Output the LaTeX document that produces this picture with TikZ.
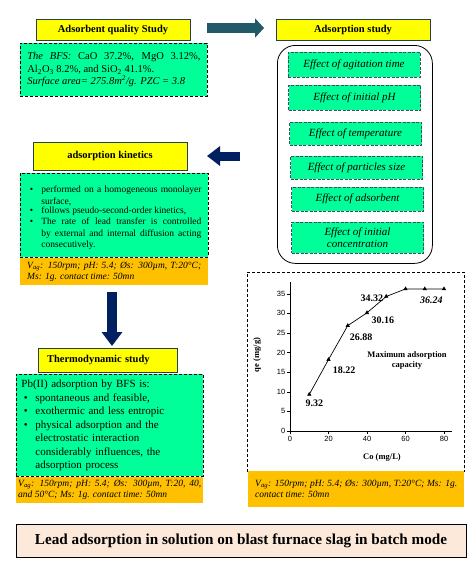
\documentclass[tikz,border=0pt]{standalone}
\usepackage{fontspec}
\setmainfont{Liberation Serif}
\newfontfamily\axisfont{Liberation Sans}
\usetikzlibrary{arrows.meta,plotmarks}

\definecolor{boxgreen}{RGB}{0,255,153}
\definecolor{boxyellow}{RGB}{255,255,0}
\definecolor{boxorange}{RGB}{255,192,0}
\definecolor{titlepeach}{RGB}{253,233,217}
\definecolor{headline}{RGB}{36,64,80}
\definecolor{effectline}{RGB}{60,80,90}
\definecolor{arrowteal}{RGB}{33,89,104}
\definecolor{arrownavy}{RGB}{0,32,96}

\newlength\bulletind
\setlength\bulletind{14pt}
% puce + paragraphe en retrait, sans coupure de mots
\newcommand\bitem[2][]{\par\noindent\hbox to\bulletind{\hskip2.5pt\textbullet\hfil}%
  \parbox[t]{\dimexpr\hsize-\bulletind\relax}{\hyphenpenalty=10000 #1#2}}

\tikzset{
  headbox/.style={draw=headline, line width=0.7pt, fill=boxyellow, inner sep=0pt,
    font=\bfseries\fontsize{10.5}{12}\selectfont},
  greenbox/.style={draw=black, dash pattern=on 3pt off 2pt, line width=0.8pt, fill=boxgreen,
    anchor=north west, inner xsep=7pt, inner ysep=0pt},
  orangebox/.style={fill=boxorange, anchor=north west, inner xsep=7pt, inner ysep=0pt,
    align=justify, font=\itshape\fontsize{9.5}{11}\selectfont},
  effectbox/.style={draw=effectline, dash pattern=on 3pt off 1.5pt, line width=0.6pt, fill=boxgreen,
    minimum width=132pt, inner sep=0pt, align=center, font=\itshape\fontsize{11}{12.5}\selectfont},
  ticklabel/.style={inner sep=1.5pt, font=\axisfont\fontsize{7.5}{9}\selectfont},
  datalabel/.style={inner sep=0pt, font=\bfseries\fontsize{10}{12}\selectfont},
}

\begin{document}
\begin{tikzpicture}[x=1pt, y=-1pt]
\useasboundingbox (0,0) rectangle (475,570);

% Qualite de l'adsorbant
\node[headbox, minimum width=154pt, minimum height=21pt] (quality) at (113,29.5) {Adsorbent quality Study};
\node[greenbox, minimum width=187pt, minimum height=53pt, text width=173pt, align=justify,
  font=\fontsize{10.5}{12.5}\selectfont] (bfs) at (20,43)
  {\textit{The BFS:} CaO 37.2\%, MgO 3.12\%,\linebreak Al\textsubscript{2}O\textsubscript{3} 8.2\%, and SiO\textsubscript{2} 41.1\%.\par
   \textit{Surface area= 275.8m\textsuperscript{2}/g. PZC = 3.8}};

% Etude d'adsorption
\node[headbox, minimum width=154pt, minimum height=21pt] (studyhead) at (353,29.5) {Adsorption study};
\node[draw, line width=0.8pt, rounded corners=18pt, fill=white, anchor=north west,
  minimum width=155pt, minimum height=218pt] (studybox) at (277,45) {};
\foreach \ex/\ey/\eh/\etext [count=\i] in {
    354/64.5/25/{Effect of agitation time},
    354.5/97.5/25/{Effect of initial pH},
    355.5/133.5/23/{Effect of temperature},
    356.5/167.5/23/{Effect of particles size},
    357.5/199/24/{Effect of adsorbent},
    357.5/237.5/31/{Effect of initial\\concentration}}
  \node[effectbox, minimum height=\eh pt] (eff\i) at (\ex,\ey) {\etext};

% Cinetique
\node[headbox, minimum width=154pt, minimum height=28pt] (kinhead) at (110,156) {adsorption kinetics};
\node[greenbox, minimum width=188pt, minimum height=84pt, text width=174pt, align=justify,
  font=\fontsize{9.5}{11.5}\selectfont] (kinbox) at (20,173)
  {\bitem{performed on a homogeneous monolayer surface,}
   \bitem{follows pseudo-second-order kinetics,}
   \bitem{The rate of lead transfer is controlled by external and internal diffusion acting consecutively.}};
\node[orangebox, minimum width=188pt, minimum height=27pt, text width=174pt] (kinorange) at (kinbox.south west)
  {V\textsubscript{ag}: 150rpm; pH: 5.4; Øs: 300µm, T:20°C;\linebreak Ms: 1g. contact time: 50mn};

% Thermodynamique
\node[headbox, minimum width=139pt, minimum height=24pt, text width=121pt, inner xsep=9pt, align=left]
  (thermohead) at (107.5,360) {Thermodynamic study};
\node[greenbox, minimum width=187pt, minimum height=102pt, text width=177pt, inner xsep=5pt, align=left,
  font=\fontsize{11}{13.5}\selectfont] (thermobox) at (16,374)
  {Pb(II) adsorption by BFS is:
   \bitem[\raggedright]{spontaneous and feasible,}
   \bitem[\raggedright]{exothermic and less entropic}
   \bitem[\raggedright]{physical adsorption and the\\electrostatic interaction\\considerably influences, the\\adsorption process}};
\node[orangebox, minimum width=187pt, minimum height=26pt, text width=183pt, inner xsep=2pt] (thermoorange) at (thermobox.south west)
  {V\textsubscript{ag}: 150rpm; pH: 5.4; Øs: 300µm, T:20, 40,\linebreak and 50°C; Ms: 1g. contact time: 50mn};

% Courbe qe = f(Co)
\node[draw, dash pattern=on 3pt off 2pt, line width=0.8pt, fill=white, anchor=north west,
  minimum width=217pt, minimum height=199pt, inner sep=0pt] (chartbox) at (247,272) {};
\node[orangebox, minimum width=216pt, minimum height=36pt, text width=202pt] (chartorange) at (248,471)
  {V\textsubscript{ag}: 150rpm; pH: 5.4; Øs: 300µm, T:20°C; Ms: 1g.\linebreak contact time: 50mn};
\begin{scope}[shift={(290,431)}, x=1.925pt, y=3.92pt]
  \draw[line width=0.6pt] (0,38) -- (0,0) -- (84,0);
  \foreach \yv in {0,5,...,35}
    \draw[line width=0.6pt] (0,\yv) -- ++(-3pt,0) node[ticklabel, left] (yt\yv) {\yv};
  \foreach \xv in {0,20,...,80}
    \draw[line width=0.6pt] (\xv,0) -- ++(0,-3pt) node[ticklabel, below] (xt\xv) {\xv};
  \draw[line width=0.7pt, mark=triangle*, mark size=1.8pt] plot coordinates
    {(10,9.32) (20,18.22) (30,26.88) (40,30.16) (50,34.32) (60,36.24) (70,36.24) (80,36.24)};
  \node[datalabel] (v1) at (12.7,7.1) {9.32};
  \node[datalabel] (v2) at (28.1,15.6) {18.22};
  \node[datalabel] (v3) at (36.9,24.0) {26.88};
  \node[datalabel] (v4) at (48.3,28.3) {30.16};
  \node[datalabel] (v5) at (42.5,33.9) {34.32};
  \node[datalabel, font=\bfseries\itshape\fontsize{10}{12}\selectfont] (v6) at (73.5,33.4) {36.24};
  \node[align=center, font=\bfseries\fontsize{8.5}{10}\selectfont] (maxcap) at (60.8,18.1) {Maximum adsorption\\capacity};
\end{scope}
\node[rotate=90, font=\bfseries\fontsize{8.5}{10}\selectfont] (qelabel) at (257,355) {qe (mg/g)};
\node[font=\bfseries\fontsize{8.5}{10}\selectfont] (colabel) at (382,457) {Co (mg/L)};

% Titre
\node[draw, line width=0.8pt, fill=titlepeach, minimum width=450pt, minimum height=33pt,
  font=\bfseries\fontsize{15.2}{17}\selectfont] (title) at (241,540.5)
  {Lead adsorption in solution on blast furnace slag in batch mode};

% Fleches
\coordinate (tealstart) at (207,28);
\coordinate (tealend) at (264,28);
\coordinate (leftstart) at (240,156);
\coordinate (leftend) at (207,156);
\coordinate (downstart) at (112,292);
\coordinate (downend) at (112,346);
\draw[arrowteal, line width=10pt, -{Triangle[width=19pt,length=9pt]}] (tealstart) -- (tealend);
\draw[arrownavy, line width=9pt, -{Triangle[width=19pt,length=13pt]}] (leftstart) -- (leftend);
\draw[arrownavy, line width=10pt, -{Triangle[width=20pt,length=14pt]}] (downstart) -- (downend);

\end{tikzpicture}
\end{document}
